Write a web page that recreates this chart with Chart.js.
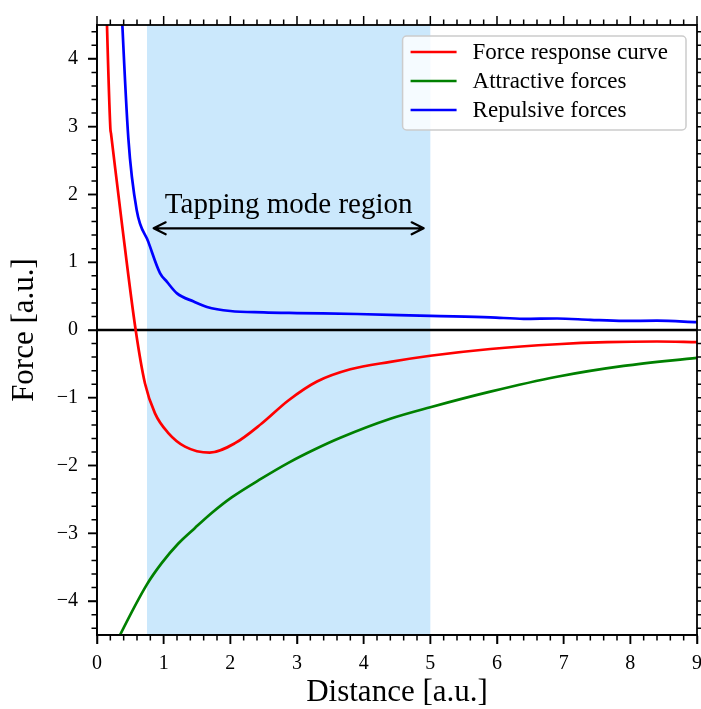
<!DOCTYPE html>
<html>
<head>
<meta charset="utf-8">
<script src="https://cdn.jsdelivr.net/npm/chart.js@4"></script>
<style>
  html, body { margin: 0; padding: 0; background: #fff; }
  #wrap { width: 701px; height: 709px; }
</style>
</head>
<body>
<div id="wrap"><canvas id="chart" width="701" height="709"></canvas></div>
<script>
// values
const seriesNames = ['Force response curve', 'Attractive forces', 'Repulsive forces'];

const forceX = [0.1, 0.2, 0.21, 0.37, 0.58, 0.72, 0.87, 1.07, 1.32, 1.69, 2.07, 2.47, 2.87, 3.3, 3.8, 4.4, 5.0, 5.9, 6.9, 7.65, 8.4, 9.0];
const forceY = [6.3, 2.98, 2.9, 1.6, 0, -0.79, -1.23, -1.52, -1.72, -1.81, -1.67, -1.38, -1.04, -0.76, -0.58, -0.47, -0.38, -0.28, -0.21, -0.18, -0.17, -0.18];

const attractX = [0.2, 0.345, 0.745, 0.97, 1.22, 1.47, 1.72, 2.02, 2.47, 2.87, 3.27, 3.65, 4.4, 5.0, 5.9, 6.9, 7.9, 9.0];
const attractY = [-4.8, -4.5, -3.76, -3.44, -3.15, -2.92, -2.70, -2.47, -2.19, -1.96, -1.76, -1.59, -1.31, -1.14, -0.91, -0.69, -0.53, -0.41];

const repulseX = [0.3, 0.47, 0.595, 0.77, 0.945, 1.05, 1.2, 1.45, 1.65, 2.0, 2.5, 3.0, 3.9, 5.0, 5.9, 6.4, 6.9, 7.4, 7.9, 8.4, 9.0];
const repulseY = [6.2, 2.83, 1.77, 1.3, 0.84, 0.71, 0.54, 0.42, 0.34, 0.28, 0.26, 0.25, 0.236, 0.207, 0.187, 0.165, 0.17, 0.15, 0.135, 0.137, 0.115];

const xTicks = [0, 1, 2, 3, 4, 5, 6, 7, 8, 9];
const yTicks = [-4, -3, -2, -1, 0, 1, 2, 3, 4];

const tappingRange = [0.75, 5];
const arrowRange = [0.85, 4.9];
const arrowLevel = 1.5;
const tappingLabel = 'Tapping mode region';

const serif = '"Liberation Serif", "Times New Roman", serif';
Chart.defaults.font.family = serif;
Chart.defaults.color = '#000';

function toPoints(xs, ys) {
  return xs.map((x, i) => ({ x: x, y: ys[i] }));
}

function minusLabel(value) {
  return value < 0 ? '\u2212' + Math.abs(value) : String(value);
}

const shading = {
  id: 'shading',
  beforeDraw(chart) {
    const { ctx, chartArea: a, scales: { x } } = chart;
    const x0 = x.getPixelForValue(tappingRange[0]);
    const x1 = x.getPixelForValue(tappingRange[1]);
    ctx.save();
    ctx.fillStyle = 'rgb(203, 232, 252)';
    ctx.fillRect(x0, a.top, x1 - x0, a.bottom - a.top);
    ctx.restore();
  },
  beforeDatasetsDraw(chart) {
    const { ctx, chartArea: a, scales: { y } } = chart;
    const py = y.getPixelForValue(0);
    ctx.save();
    ctx.strokeStyle = '#000';
    ctx.lineWidth = 2.4;
    ctx.beginPath();
    ctx.moveTo(a.left, py);
    ctx.lineTo(a.right, py);
    ctx.stroke();
    ctx.restore();
  }
};

const frameAndTicks = {
  id: 'frameAndTicks',
  afterDraw(chart) {
    const { ctx, chartArea: a, scales: { x, y } } = chart;
    ctx.save();
    ctx.strokeStyle = '#000';
    ctx.lineWidth = 1.8;
    ctx.strokeRect(a.left, a.top, a.right - a.left, a.bottom - a.top);
    ctx.lineWidth = 1.5;
    ctx.beginPath();
    for (let i = 0; i <= 45; i++) {
      const len = i % 5 === 0 ? 9 : 5.5;
      const px = x.getPixelForValue(i / 5);
      ctx.moveTo(px, a.bottom);
      ctx.lineTo(px, a.bottom + len);
      ctx.moveTo(px, a.top);
      ctx.lineTo(px, a.top - len);
    }
    for (let i = -22; i <= 22; i++) {
      const len = i % 5 === 0 ? 9 : 5.5;
      const py = y.getPixelForValue(i / 5);
      ctx.moveTo(a.left, py);
      ctx.lineTo(a.left - len, py);
      ctx.moveTo(a.right, py);
      ctx.lineTo(a.right + len, py);
    }
    ctx.stroke();
    ctx.restore();
  }
};

const tappingArrow = {
  id: 'tappingArrow',
  afterDatasetsDraw(chart) {
    const { ctx, scales: { x, y } } = chart;
    const x0 = x.getPixelForValue(arrowRange[0]);
    const x1 = x.getPixelForValue(arrowRange[1]);
    const py = y.getPixelForValue(arrowLevel);
    ctx.save();
    ctx.strokeStyle = '#000';
    ctx.lineWidth = 2.2;
    ctx.lineCap = 'round';
    ctx.lineJoin = 'round';
    ctx.beginPath();
    ctx.moveTo(x0, py);
    ctx.lineTo(x1, py);
    ctx.moveTo(x0 + 12, py - 6);
    ctx.lineTo(x0, py);
    ctx.lineTo(x0 + 12, py + 6);
    ctx.moveTo(x1 - 12, py - 6);
    ctx.lineTo(x1, py);
    ctx.lineTo(x1 - 12, py + 6);
    ctx.stroke();
    ctx.fillStyle = '#000';
    ctx.font = '29px ' + serif;
    ctx.textAlign = 'center';
    ctx.textBaseline = 'alphabetic';
    ctx.fillText(tappingLabel, (x0 + x1) / 2, py - 15);
    ctx.restore();
  }
};

const boxLegend = {
  id: 'boxLegend',
  afterDraw(chart) {
    const { ctx, chartArea: a } = chart;
    const sets = chart.data.datasets;
    ctx.save();
    ctx.font = '23px ' + serif;
    let maxW = 0;
    sets.forEach(ds => { maxW = Math.max(maxW, ctx.measureText(ds.label).width); });
    const w = 70 + maxW + 18;
    const h = 94;
    const left = a.right - 11 - w;
    const top = a.top + 11;
    ctx.beginPath();
    ctx.roundRect(left, top, w, h, 4);
    ctx.fillStyle = 'rgba(255, 255, 255, 0.8)';
    ctx.fill();
    ctx.strokeStyle = '#cccccc';
    ctx.lineWidth = 1.5;
    ctx.stroke();
    sets.forEach((ds, i) => {
      const cy = top + 16 + i * 29;
      ctx.strokeStyle = ds.borderColor;
      ctx.lineWidth = 2.6;
      ctx.beginPath();
      ctx.moveTo(left + 8, cy);
      ctx.lineTo(left + 54, cy);
      ctx.stroke();
      ctx.fillStyle = '#000';
      ctx.textAlign = 'left';
      ctx.textBaseline = 'middle';
      ctx.fillText(ds.label, left + 70, cy + 1);
    });
    ctx.restore();
  }
};

function createForceChart() {
  let ctx = document.getElementById('chart');
  let lineStyle = { borderWidth: 2.7, pointRadius: 0, fill: false, cubicInterpolationMode: 'monotone' };
  let myChart = new Chart(ctx, {
    type: 'line',
    data: {
      datasets: [
        Object.assign({ label: seriesNames[0], data: toPoints(forceX, forceY), borderColor: '#ff0000' }, lineStyle),
        Object.assign({ label: seriesNames[1], data: toPoints(attractX, attractY), borderColor: '#008000' }, lineStyle),
        Object.assign({ label: seriesNames[2], data: toPoints(repulseX, repulseY), borderColor: '#0000ff' }, lineStyle)
      ]
    },
    options: {
      responsive: false,
      animation: false,
      events: [],
      layout: { padding: { left: 0, right: 4, top: 25, bottom: 0 } },
      plugins: {
        legend: { display: false },
        tooltip: { enabled: false }
      },
      scales: {
        x: {
          type: 'linear',
          min: 0,
          max: 9,
          afterBuildTicks: scale => { scale.ticks = xTicks.map(v => ({ value: v })); },
          afterFit: scale => { scale.height = 74; scale.paddingLeft = 0; scale.paddingRight = 0; },
          ticks: { padding: 8, font: { size: 20 }, color: '#000', callback: minusLabel },
          grid: { drawOnChartArea: false, drawTicks: true, tickLength: 9, tickColor: '#000', tickWidth: 1.5 },
          border: { color: '#000', width: 1.8 },
          title: { display: true, text: 'Distance [a.u.]', color: '#000', font: { size: 31, lineHeight: 1 }, padding: { top: 0, bottom: 1 } }
        },
        y: {
          type: 'linear',
          min: -4.5,
          max: 4.5,
          afterBuildTicks: scale => { scale.ticks = yTicks.map(v => ({ value: v })); },
          afterFit: scale => { scale.width = 97; scale.paddingTop = 0; scale.paddingBottom = 0; },
          ticks: { padding: 10, font: { size: 20 }, color: '#000', callback: minusLabel },
          grid: { drawOnChartArea: false, drawTicks: true, tickLength: 9, tickColor: '#000', tickWidth: 1.5 },
          border: { color: '#000', width: 1.8 },
          title: { display: true, text: 'Force [a.u.]', color: '#000', font: { size: 31, lineHeight: 1 }, padding: { top: 9, bottom: 0 } }
        }
      }
    },
    plugins: [shading, tappingArrow, frameAndTicks, boxLegend]
  });
}

createForceChart();
</script>
</body>
</html>
